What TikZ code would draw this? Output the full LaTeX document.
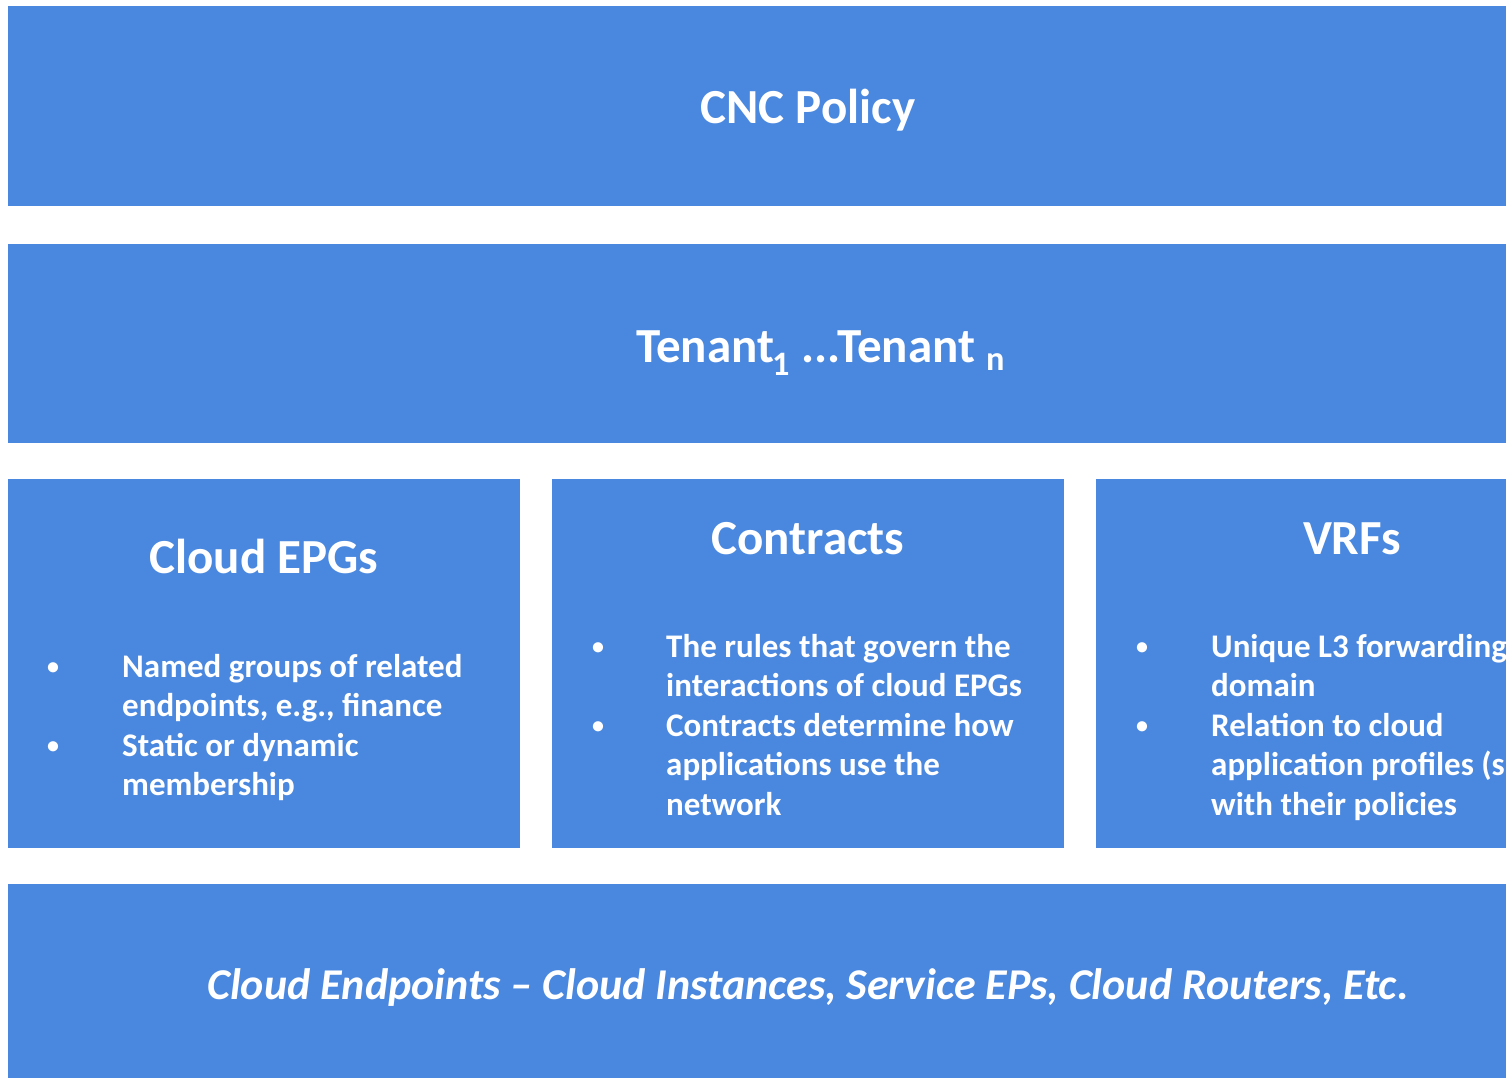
\documentclass[tikz,border=0pt]{standalone}
\usepackage{fontspec}
\setmainfont{Carlito}
\definecolor{boxblue}{RGB}{74,136,224}
\begin{document}
\begin{tikzpicture}[x=1pt,y=-1pt,
  band/.style={fill=boxblue,draw=none},
  title/.style={text=white,font=\fontsize{49}{58}\selectfont\bfseries,inner sep=0pt,anchor=base},
  item/.style={text=white,font=\fontsize{33}{39.5}\selectfont\bfseries,inner sep=0pt,anchor=base west},
  dot/.style={text=white,font=\fontsize{24}{30}\selectfont\bfseries,inner sep=0pt,anchor=base}]
\useasboundingbox (0,0) rectangle (1506,1078);
\clip (0,0) rectangle (1506,1078);
% bands
\path[band] (8,6) rectangle (1560,206);
\path[band] (8,244) rectangle (1560,443);
\path[band] (8,479) rectangle (520,848);
\path[band] (552,479) rectangle (1064,848);
\path[band] (1096,479) rectangle (1608,848);
\path[band] (8,884) rectangle (1560,1100);
% top
\node[title] (cnc) at (808,124) {CNC Policy};
\node[title,anchor=base west] (ten) at (636,362) {Tenant\kern-2pt\textsubscript{1} ...Tenant \textsubscript{n}};
% Cloud EPGs
\node[title] (epg) at (264,573) {Cloud EPGs};
\node[dot] (eb1) at (53,674) {•};
\node[item] (e1) at (122,677) {Named groups of related};
\node[item] (e2) at (122,716.5) {endpoints, e.g., finance};
\node[dot] (eb2) at (53,753) {•};
\node[item] (e3) at (122,756) {Static or dynamic};
\node[item] (e4) at (122,795.5) {membership};
% Contracts
\node[title] (con) at (808,554) {Contracts};
\node[dot] (cb1) at (598,654) {•};
\node[item] (c1) at (666,657) {The rules that govern the};
\node[item] (c2) at (666,696.5) {interactions of cloud EPGs};
\node[dot] (cb2) at (598,733) {•};
\node[item] (c3) at (666,736) {Contracts determine how};
\node[item] (c4) at (666,775.5) {applications use the};
\node[item] (c5) at (666,815) {network};
% VRFs
\node[title] (vrf) at (1352,554) {VRFs};
\node[dot] (vb1) at (1142,654) {•};
\node[item] (v1) at (1211,657) {Unique L3 forwarding};
\node[item] (v2) at (1211,696.5) {domain};
\node[dot] (vb2) at (1142,733) {•};
\node[item] (v3) at (1211,736) {Relation to cloud};
\node[item] (v4) at (1211,775.5) {application profiles (s};
\node[item] (v5) at (1211,815) {with their policies};
% bottom
\node[text=white,font=\fontsize{44}{52}\selectfont\bfseries\itshape,inner sep=0pt,anchor=base] (ep) at (808,999) {Cloud Endpoints – Cloud Instances, Service EPs, Cloud Routers, Etc.};
\end{tikzpicture}
\end{document}
